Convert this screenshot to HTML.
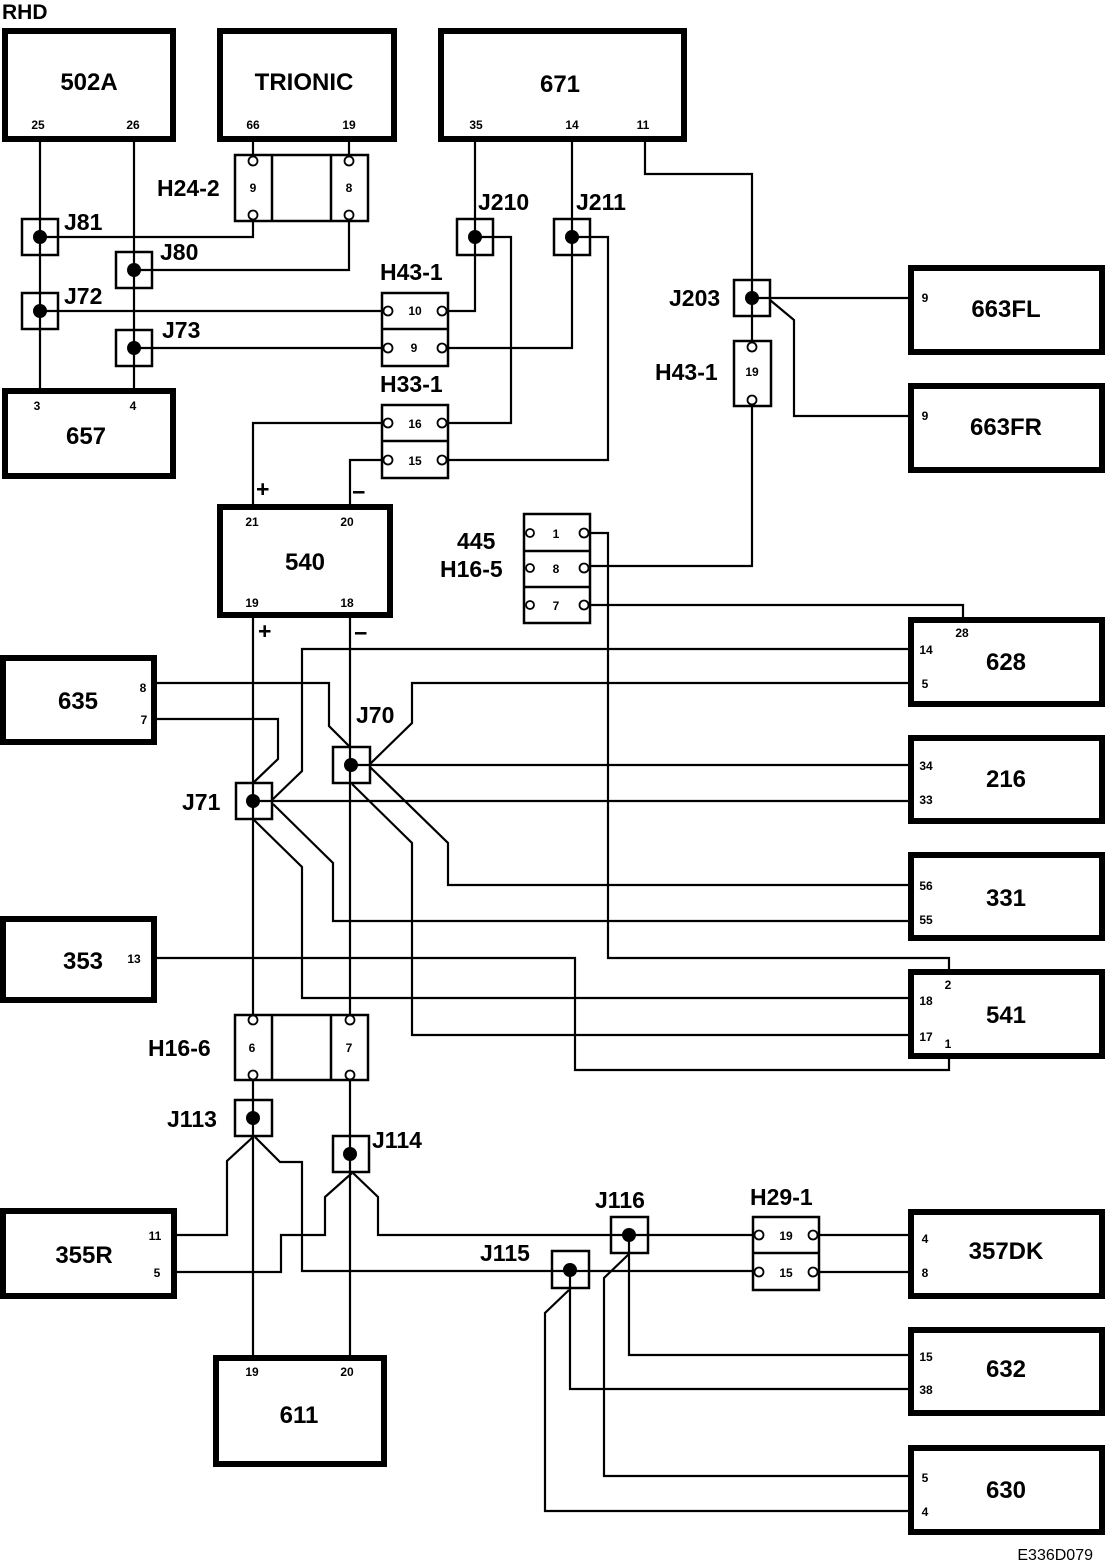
<!DOCTYPE html>
<html><head><meta charset="utf-8"><style>
html,body{margin:0;padding:0;background:#fff}
svg{display:block}
text{font-family:"Liberation Sans",Arial,sans-serif;font-weight:bold;fill:#000}
.b{font-size:24px;text-anchor:middle}
.l{font-size:23px}
.p{font-size:12px;text-anchor:middle}
.s{font-size:13px;text-anchor:middle}
.w{fill:none;stroke:#000;stroke-width:2.2}
.bx{fill:none;stroke:#000;stroke-width:6}
.th{fill:none;stroke:#000;stroke-width:2.5}
.c{fill:#fff;stroke:#000;stroke-width:1.8}
</style></head><body>
<svg width="1120" height="1566" viewBox="0 0 1120 1566" xmlns="http://www.w3.org/2000/svg">
<text x="2" y="19" style="font-size:21px">RHD</text>

<!-- wires -->
<g class="w">
<polyline points="40,141 40,388"/>
<polyline points="134,141 134,388"/>
<polyline points="253,141 253,157"/>
<polyline points="349,141 349,157"/>
<polyline points="40,237 253,237 253,219"/>
<polyline points="134,270 349,270 349,219"/>
<polyline points="40,311 384,311"/>
<polyline points="134,348 384,348"/>
<polyline points="475,141 475,311 446,311"/>
<polyline points="475,237 511,237 511,423 446,423"/>
<polyline points="572,141 572,348 446,348"/>
<polyline points="572,237 608,237 608,460 446,460"/>
<polyline points="645,141 645,174 752,174 752,343"/>
<polyline points="752,298 909,298"/>
<polyline points="770,300 794,320 794,416 909,416"/>
<polyline points="752,404 752,566 588,566"/>
<polyline points="384,423 253,423 253,505"/>
<polyline points="384,460 350,460 350,505"/>
<polyline points="588,533 608,533 608,958 949,958 949,970"/>
<polyline points="588,605 963,605 963,618"/>
<polyline points="155,958 575,958 575,1070 949,1070 949,1058"/>
<polyline points="253,617 253,1016"/>
<polyline points="350,617 350,1016"/>
<polyline points="909,649 302,649 302,771 272,800"/>
<polyline points="909,683 412,683 412,723 370,764"/>
<polyline points="155,683 329,683 329,726 350,747"/>
<polyline points="155,719 278,719 278,759 253,783"/>
<polyline points="351,765 909,765"/>
<polyline points="253,801 909,801"/>
<polyline points="370,767 448,843 448,885 909,885"/>
<polyline points="352,784 412,843 412,1035 909,1035"/>
<polyline points="273,804 333,863 333,921 909,921"/>
<polyline points="254,820 302,867 302,998 909,998"/>
<polyline points="253,1079 253,1355"/>
<polyline points="350,1079 350,1355"/>
<polyline points="253,1137 227,1161 227,1235 176,1235"/>
<polyline points="255,1137 280,1162 302,1162 302,1271 755,1271"/>
<polyline points="352,1173 325,1197 325,1235 281,1235 281,1272 176,1272"/>
<polyline points="353,1173 378,1197 378,1235 755,1235"/>
<polyline points="817,1235 909,1235"/>
<polyline points="817,1272 909,1272"/>
<polyline points="629,1235 629,1355 909,1355"/>
<polyline points="629,1254 604,1278 604,1476 909,1476"/>
<polyline points="570,1270 570,1389 909,1389"/>
<polyline points="569,1290 545,1313 545,1511 909,1511"/>
</g>

<!-- thick boxes -->
<g class="bx" fill="#fff">
<rect x="5" y="31" width="168" height="108" fill="#fff"/>
<rect x="220" y="31" width="174" height="108" fill="#fff"/>
<rect x="441" y="31" width="243" height="108" fill="#fff"/>
<rect x="5" y="391" width="168" height="85" fill="#fff"/>
<rect x="220" y="507" width="170" height="108" fill="#fff"/>
<rect x="3" y="658" width="151" height="84" fill="#fff"/>
<rect x="3" y="919" width="151" height="81" fill="#fff"/>
<rect x="3" y="1211" width="171" height="85" fill="#fff"/>
<rect x="216" y="1358" width="168" height="106" fill="#fff"/>
<rect x="911" y="268" width="191" height="84" fill="#fff"/>
<rect x="911" y="386" width="191" height="84" fill="#fff"/>
<rect x="911" y="620" width="191" height="84" fill="#fff"/>
<rect x="911" y="738" width="191" height="83" fill="#fff"/>
<rect x="911" y="855" width="191" height="83" fill="#fff"/>
<rect x="911" y="972" width="191" height="84" fill="#fff"/>
<rect x="911" y="1212" width="191" height="84" fill="#fff"/>
<rect x="911" y="1330" width="191" height="83" fill="#fff"/>
<rect x="911" y="1448" width="191" height="84" fill="#fff"/>
</g>

<!-- thin connector blocks -->
<g class="th">
<rect x="235" y="155" width="133" height="66" fill="#fff"/>
<line x1="272" y1="155" x2="272" y2="221"/><line x1="331" y1="155" x2="331" y2="221"/>
<rect x="382" y="293" width="66" height="73" fill="#fff"/>
<line x1="382" y1="329" x2="448" y2="329"/>
<rect x="382" y="405" width="66" height="73" fill="#fff"/>
<line x1="382" y1="441" x2="448" y2="441"/>
<rect x="734" y="341" width="37" height="65" fill="#fff"/>
<rect x="524" y="514" width="66" height="109" fill="#fff"/>
<line x1="524" y1="551" x2="590" y2="551"/><line x1="524" y1="587" x2="590" y2="587"/>
<rect x="235" y="1015" width="133" height="65" fill="#fff"/>
<line x1="272" y1="1015" x2="272" y2="1080"/><line x1="331" y1="1015" x2="331" y2="1080"/>
<rect x="753" y="1217" width="66" height="73" fill="#fff"/>
<line x1="753" y1="1253" x2="819" y2="1253"/>
<!-- splices -->
<rect x="22" y="219" width="36" height="36"/>
<rect x="116" y="252" width="36" height="36"/>
<rect x="22" y="293" width="36" height="36"/>
<rect x="116" y="330" width="36" height="36"/>
<rect x="457" y="219" width="36" height="36"/>
<rect x="554" y="219" width="36" height="36"/>
<rect x="734" y="280" width="36" height="36"/>
<rect x="333" y="747" width="37" height="36"/>
<rect x="236" y="783" width="36" height="36"/>
<rect x="235" y="1100" width="37" height="36"/>
<rect x="333" y="1136" width="36" height="36"/>
<rect x="611" y="1217" width="37" height="36"/>
<rect x="552" y="1251" width="37" height="37"/>
</g>
<g fill="#000">
<circle cx="40" cy="237" r="7"/><circle cx="134" cy="270" r="7"/>
<circle cx="40" cy="311" r="7"/><circle cx="134" cy="348" r="7"/>
<circle cx="475" cy="237" r="7"/><circle cx="572" cy="237" r="7"/>
<circle cx="752" cy="298" r="7"/><circle cx="351" cy="765" r="7"/>
<circle cx="253" cy="801" r="7"/><circle cx="253" cy="1118" r="7"/>
<circle cx="350" cy="1154" r="7"/><circle cx="629" cy="1235" r="7"/>
<circle cx="570" cy="1270" r="7"/>
</g>
<g class="c">
<circle cx="253" cy="161" r="4.5"/><circle cx="253" cy="215" r="4.5"/>
<circle cx="349" cy="161" r="4.5"/><circle cx="349" cy="215" r="4.5"/>
<circle cx="388" cy="311" r="4.5"/><circle cx="442" cy="311" r="4.5"/>
<circle cx="388" cy="348" r="4.5"/><circle cx="442" cy="348" r="4.5"/>
<circle cx="388" cy="423" r="4.5"/><circle cx="442" cy="423" r="4.5"/>
<circle cx="388" cy="460" r="4.5"/><circle cx="442" cy="460" r="4.5"/>
<circle cx="752" cy="347" r="4.5"/><circle cx="752" cy="400" r="4.5"/>
<circle cx="530" cy="533" r="4"/><circle cx="584" cy="533" r="4.5"/>
<circle cx="530" cy="568" r="4"/><circle cx="584" cy="568" r="4.5"/>
<circle cx="530" cy="605" r="4"/><circle cx="584" cy="605" r="4.5"/>
<circle cx="253" cy="1020" r="4.5"/><circle cx="253" cy="1075" r="4.5"/>
<circle cx="350" cy="1020" r="4.5"/><circle cx="350" cy="1075" r="4.5"/>
<circle cx="759" cy="1235" r="4.5"/><circle cx="813" cy="1235" r="4.5"/>
<circle cx="759" cy="1272" r="4.5"/><circle cx="813" cy="1272" r="4.5"/>
</g>

<!-- box labels -->
<text class="b" x="89" y="90">502A</text>
<text class="b" x="304" y="90">TRIONIC</text>
<text class="b" x="560" y="92">671</text>
<text class="b" x="86" y="444">657</text>
<text class="b" x="305" y="570">540</text>
<text class="b" x="78" y="709">635</text>
<text class="b" x="83" y="969">353</text>
<text class="b" x="84" y="1263">355R</text>
<text class="b" x="299" y="1423">611</text>
<text class="b" x="1006" y="317">663FL</text>
<text class="b" x="1006" y="435">663FR</text>
<text class="b" x="1006" y="670">628</text>
<text class="b" x="1006" y="787">216</text>
<text class="b" x="1006" y="906">331</text>
<text class="b" x="1006" y="1023">541</text>
<text class="b" x="1006" y="1259">357DK</text>
<text class="b" x="1006" y="1377">632</text>
<text class="b" x="1006" y="1498">630</text>

<!-- connector labels -->
<text class="l" x="64" y="230">J81</text>
<text class="l" x="160" y="260">J80</text>
<text class="l" x="64" y="304">J72</text>
<text class="l" x="162" y="338">J73</text>
<text class="l" x="157" y="196">H24-2</text>
<text class="l" x="380" y="280">H43-1</text>
<text class="l" x="380" y="392">H33-1</text>
<text class="l" x="478" y="210">J210</text>
<text class="l" x="576" y="210">J211</text>
<text class="l" x="669" y="306">J203</text>
<text class="l" x="655" y="380">H43-1</text>
<text class="l" x="457" y="549">445</text>
<text class="l" x="440" y="577">H16-5</text>
<text class="l" x="356" y="723">J70</text>
<text class="l" x="182" y="810">J71</text>
<text class="l" x="148" y="1056">H16-6</text>
<text class="l" x="167" y="1127">J113</text>
<text class="l" x="372" y="1148">J114</text>
<text class="l" x="595" y="1208">J116</text>
<text class="l" x="480" y="1261">J115</text>
<text class="l" x="750" y="1205">H29-1</text>
<text class="l" x="256" y="497">+</text>
<text class="l" x="352" y="500">−</text>
<text class="l" x="258" y="639">+</text>
<text class="l" x="354" y="641">−</text>

<!-- pin labels -->
<g class="p">
<text x="38" y="129">25</text><text x="133" y="129">26</text>
<text x="253" y="129">66</text><text x="349" y="129">19</text>
<text x="476" y="129">35</text><text x="572" y="129">14</text><text x="643" y="129">11</text>
<text x="37" y="410">3</text><text x="133" y="410">4</text>
<text x="252" y="526">21</text><text x="347" y="526">20</text>
<text x="252" y="607">19</text><text x="347" y="607">18</text>
<text x="143" y="692">8</text><text x="144" y="724">7</text>
<text x="134" y="963">13</text>
<text x="155" y="1240">11</text><text x="157" y="1277">5</text>
<text x="252" y="1376">19</text><text x="347" y="1376">20</text>
<text x="925" y="302">9</text><text x="925" y="420">9</text>
<text x="962" y="637">28</text><text x="926" y="654">14</text><text x="925" y="688">5</text>
<text x="926" y="770">34</text><text x="926" y="804">33</text>
<text x="926" y="890">56</text><text x="926" y="924">55</text>
<text x="948" y="989">2</text><text x="926" y="1005">18</text><text x="926" y="1041">17</text><text x="948" y="1048">1</text>
<text x="925" y="1243">4</text><text x="925" y="1277">8</text>
<text x="926" y="1361">15</text><text x="926" y="1394">38</text>
<text x="925" y="1482">5</text><text x="925" y="1516">4</text>
<text x="253" y="192">9</text><text x="349" y="192">8</text>
<text x="415" y="315">10</text><text x="414" y="352">9</text>
<text x="415" y="428">16</text><text x="415" y="465">15</text>
<text x="752" y="376">19</text>
<text x="556" y="538">1</text><text x="556" y="573">8</text><text x="556" y="610">7</text>
<text x="252" y="1052">6</text><text x="349" y="1052">7</text>
<text x="786" y="1240">19</text><text x="786" y="1277">15</text>
</g>
<text x="1093" y="1560" style="font-size:16px;font-weight:normal;text-anchor:end">E336D079</text>
</svg>
</body></html>
